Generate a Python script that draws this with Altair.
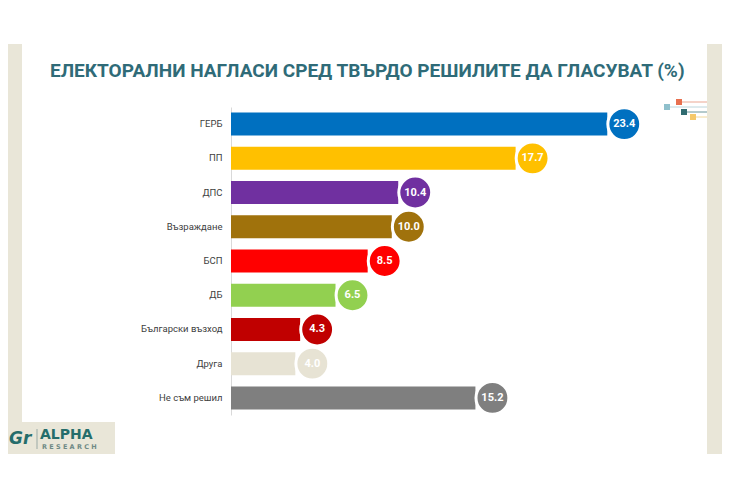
import altair as alt
import pandas as pd

parties = ["ГЕРБ", "ПП", "ДПС", "Възраждане", "БСП", "ДБ",
           "Български възход", "Друга", "Не съм решил"]
values = [23.4, 17.7, 10.4, 10.0, 8.5, 6.5, 4.3, 4.0, 15.2]
colors = ["#0070c0", "#ffc000", "#7030a0", "#a0720c", "#ff0000",
          "#92d050", "#c00000", "#e7e3d4", "#7f7f7f"]
title_text = "ЕЛЕКТОРАЛНИ НАГЛАСИ СРЕД ТВЪРДО РЕШИЛИТЕ ДА ГЛАСУВАТ (%)"

df = pd.DataFrame({
    "party": parties,
    "value": values,
    "color": colors,
    "label": [f"{v:.1f}" for v in values],
})
one = pd.DataFrame({"k": [0]})

W, H = 402, 308
FONT = "Roboto"
BEIGE = "#e9e6d8"
TEAL = "#2f6b78"

y = alt.Y("party:N", sort=parties,
          scale=alt.Scale(paddingInner=0.33, paddingOuter=0.165),
          axis=alt.Axis(title=None, ticks=False, domainColor="#d9d9d9",
                        domainWidth=1, labelColor="#404040", labelFontSize=9.5,
                        labelFont=FONT, labelPadding=9, labelLimit=200))
x = alt.X("value:Q", scale=alt.Scale(domain=[0, 25]), axis=None)
col = alt.Color("color:N", scale=None, legend=None)

base = alt.Chart(df)
bars = base.mark_bar(size=23).encode(x=x, y=y, color=col)
circles = base.mark_circle(size=1080, opacity=1, stroke="white",
                           strokeWidth=3, xOffset=17).encode(x=x, y=y, color=col)
texts = base.mark_text(color="white", fontWeight="bold", fontSize=11,
                       font=FONT, xOffset=17).encode(x=x, y=y, text="label:N")

deco = alt.Chart(one)
title = deco.mark_text(text=title_text, font=FONT, fontSize=19,
                       fontWeight="bold", color=TEAL, align="left",
                       baseline="alphabetic").encode(x=alt.value(-181), y=alt.value(-30))
left_strip = deco.mark_rect(color=BEIGE).encode(
    x=alt.value(-223), x2=alt.value(-209), y=alt.value(-63), y2=alt.value(315))
logo_box = deco.mark_rect(color=BEIGE).encode(
    x=alt.value(-223), x2=alt.value(-116), y=alt.value(315), y2=alt.value(347))
right_strip = deco.mark_rect(color=BEIGE).encode(
    x=alt.value(476), x2=alt.value(491), y=alt.value(-63), y2=alt.value(347))
logo_g = deco.mark_text(text="Gr", font="DejaVu Sans", fontSize=17,
                        fontWeight="bold", fontStyle="italic", color="#256d6b",
                        align="left", baseline="alphabetic").encode(
    x=alt.value(-222), y=alt.value(337))
logo_sep = deco.mark_rule(color="#9aa9a5", strokeWidth=1).encode(
    x=alt.value(-194), y=alt.value(322), y2=alt.value(342))
logo_alpha = deco.mark_text(text="ALPHA", font="DejaVu Sans", fontSize=14,
                            fontWeight="bold", color="#256d6b", align="left",
                            baseline="alphabetic").encode(
    x=alt.value(-191), y=alt.value(332))
logo_res = deco.mark_text(text="R E S E A R C H", font="DejaVu Sans", fontSize=6.5,
                          fontWeight="bold", color="#6f8a86", align="left",
                          baseline="alphabetic").encode(
    x=alt.value(-189), y=alt.value(342))

# small ornament at top right
orn = []
for sx, sy, sq, ln in [(448, -5, "#e8704f", "#eaa793"),
                       (436, 0, "#8fc0cc", "#bcd6dc"),
                       (453, 5, "#2f6b70", "#6a959a"),
                       (462, 10, "#f5c86a", "#f2d89c")]:
    orn.append(deco.mark_rule(color=ln, strokeWidth=1).encode(
        x=alt.value(sx + 3), x2=alt.value(476), y=alt.value(sy)))
    orn.append(deco.mark_square(color=sq, size=36, opacity=1).encode(
        x=alt.value(sx), y=alt.value(sy)))

chart = alt.layer(
    left_strip, logo_box, right_strip, logo_g, logo_sep, logo_alpha, logo_res,
    *orn, title, bars, circles, texts
).properties(
    width=W, height=H,
    autosize=alt.AutoSizeParams(type="none"),
    padding={"left": 223, "top": 99, "right": 89, "bottom": 77},
    background="white",
).configure_view(stroke=None)

chart.save("out.html", embed_options={"renderer": "svg", "actions": False})
